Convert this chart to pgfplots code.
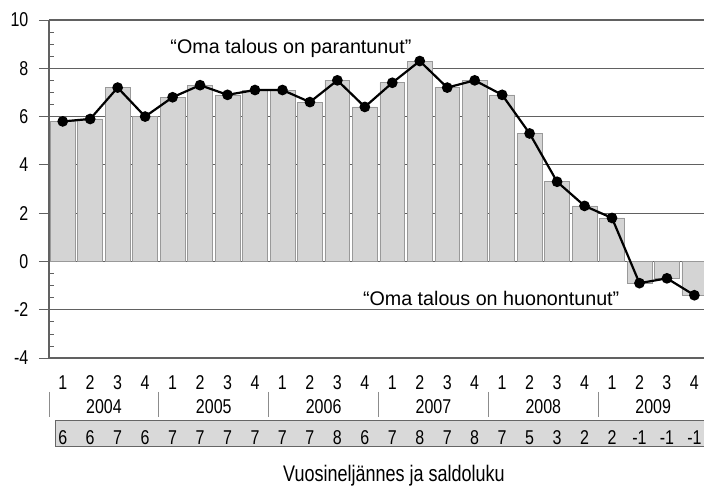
\documentclass[border=0pt]{standalone}
\usepackage{fontspec}
\setmainfont{Liberation Sans}
\newfontfamily\condfont[FakeStretch=0.8]{Liberation Sans}
\usepackage{pgfplots}
\usepackage{pgfplotstable}
\pgfplotsset{compat=1.18}
\definecolor{barfill}{gray}{0.83}
\definecolor{boxfill}{gray}{0.85}
\definecolor{gridc}{gray}{0.38}

\pgfplotstableread{
x y
1 5.8
2 5.9
3 7.2
4 6.0
5 6.8
6 7.3
7 6.9
8 7.1
9 7.1
10 6.6
11 7.5
12 6.4
13 7.4
14 8.3
15 7.2
16 7.5
17 6.9
18 5.3
19 3.3
20 2.3
21 1.8
22 -0.9
23 -0.7
24 -1.4
}\datatable

\begin{document}
\begin{tikzpicture}
\useasboundingbox (-49pt,-130pt) rectangle (655pt,358pt);
\begin{axis}[
  scale only axis, width=655pt, height=338pt,
  xmin=0.5, xmax=24.35, ymin=-4, ymax=10,
  clip=false,
  axis x line*=bottom, axis y line*=left,
  axis line style={gridc, line width=1.2pt},
  ytick={-4,-2,...,10},
  minor y tick num=3,
  ymajorgrids,
  grid style={gridc, line width=1.2pt},
  tick align=inside,
  major tick length=10pt,
  minor tick length=5pt,
  minor y tick style={gridc, line width=0.6pt},
  major y tick style={xshift=-10pt, gridc, line width=1pt},
  xtick=\empty,
  yticklabel style={font=\condfont\fontsize{20}{24}\selectfont, anchor=east, inner sep=0pt, xshift=-20.5pt},
  /pgf/number format/assume math mode=true,
]
\addplot[ybar, bar width=24.8pt, fill=barfill, draw=black!40, line width=0.6pt] table[x=x,y=y]{\datatable};
\addplot[black, line width=2.2pt, mark=*, mark size=4.2pt] table[x=x,y=y]{\datatable};

\node[anchor=base, font=\fontsize{19.7}{24}\selectfont] at (axis cs:9.31,8.62) {“Oma talous on parantunut”};
\node[anchor=base, font=\fontsize{19.7}{24}\selectfont] at (axis cs:16.6,-1.805) {“Oma talous on huonontunut”};

% quarter labels
\pgfplotsforeachungrouped \i/\q in {1/1,2/2,3/3,4/4,5/1,6/2,7/3,8/4,9/1,10/2,11/3,12/4,13/1,14/2,15/3,16/4,17/1,18/2,19/3,20/4,21/1,22/2,23/3,24/4}{
  \edef\temp{\noexpand\node[anchor=base, font=\noexpand\condfont\noexpand\fontsize{20}{24}\noexpand\selectfont] at (axis cs:\i,-5.321) {\q};}
  \temp
}
% year separators
\pgfplotsforeachungrouped \s in {0.5,4.5,8.5,12.5,16.5,20.5}{
  \edef\temp{\noexpand\draw[black!45, line width=0.8pt] (axis cs:\s,-5.408) -- (axis cs:\s,-6.444);}
  \temp
}
% years
\pgfplotsforeachungrouped \c/\yr in {2.5/2004,6.5/2005,10.5/2006,14.5/2007,18.5/2008,22.5/2009}{
  \edef\temp{\noexpand\node[anchor=base, font=\noexpand\condfont\noexpand\fontsize{20}{24}\noexpand\selectfont] at (axis cs:\c,-6.315) {\yr};}
  \temp
}
% saldoluku box
\draw[fill=boxfill, draw=black!60, line width=0.8pt] (axis cs:0.72,-6.568) rectangle (axis cs:24.35,-7.674);
\pgfplotsforeachungrouped \i/\v in {1/6,2/6,3/7,4/6,5/7,6/7,7/7,8/7,9/7,10/7,11/8,12/6,13/7,14/8,15/7,16/8,17/7,18/5,19/3,20/2,21/2,22/-1,23/-1,24/-1}{
  \edef\temp{\noexpand\node[anchor=base, font=\noexpand\condfont\noexpand\fontsize{20}{24}\noexpand\selectfont] at (axis cs:\i,-7.562) {\v};}
  \temp
}
\node[anchor=base, font=\condfont\fontsize{22.5}{26}\selectfont] at (axis cs:13.06,-9.095) {Vuosineljännes ja saldoluku};
\end{axis}
\end{tikzpicture}
\end{document}
